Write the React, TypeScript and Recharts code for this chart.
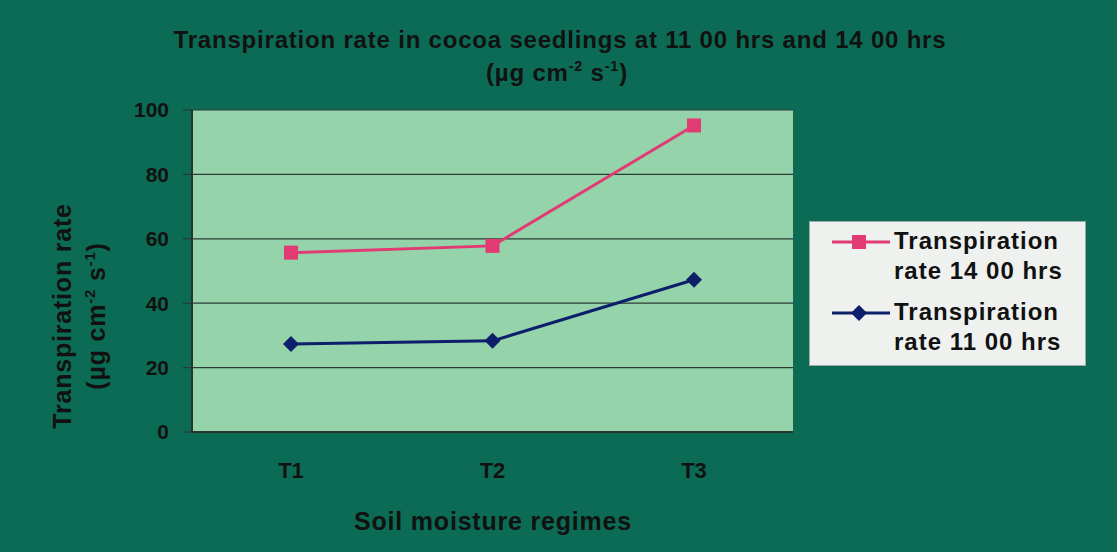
import React from "react";
import {
  LineChart, Line, XAxis, YAxis, CartesianGrid,
} from "recharts";

const regimes = ["T1", "T2", "T3"];
const rate1400 = [55.7, 57.8, 95.2];
const rate1100 = [27.3, 28.3, 47.3];
const yTicks = [0, 20, 40, 60, 80, 100];

const data = regimes.map((r, i) => ({ regime: r, t14: rate1400[i], t11: rate1100[i] }));

const BG = "#0b6b54";
const PLOT = "#95d4ab";
const PINK = "#e23a72";
const NAVY = "#0d1f6b";
const FONT = "'Liberation Sans', Arial, sans-serif";

// (µg cm-2 s-1) with raised exponents, as svg tspans
function Unit({ size }: { size: number }) {
  const s = size * 0.6;
  const up = size * 0.4;
  return (
    <>
      <tspan>(µg cm</tspan>
      <tspan dy={-up} fontSize={s}>-2</tspan>
      <tspan dy={up}> s</tspan>
      <tspan dy={-up} fontSize={s}>-1</tspan>
      <tspan dy={up}>)</tspan>
    </>
  );
}

function LegendBox() {
  const items = [
    { color: PINK, shape: "square", text: ["Transpiration", "rate 14 00 hrs"] },
    { color: NAVY, shape: "diamond", text: ["Transpiration", "rate 11 00 hrs"] },
  ];
  return (
    <div
      style={{
        position: "absolute", left: 809, top: 221, width: 277, height: 145,
        background: "#eef1ee", border: "1px solid #9aa", boxSizing: "border-box",
        padding: "4px 0 0 20px", fontFamily: FONT, fontWeight: "bold", fontSize: 24,
        letterSpacing: 1, color: "#111",
      }}
    >
      {items.map((it) => (
        <div key={it.text[1]} style={{ display: "flex", alignItems: "flex-start", marginBottom: 11 }}>
          <svg width={62} height={30}>
            <line x1={2} y1={16} x2={60} y2={16} stroke={it.color} strokeWidth={3} />
            {it.shape === "square" ? (
              <rect x={22} y={9} width={14} height={14} fill={it.color} />
            ) : (
              <polygon points="29,8 37,16 29,24 21,16" fill={it.color} />
            )}
          </svg>
          <div style={{ lineHeight: "30px", marginLeft: 2 }}>
            {it.text[0]}
            <br />
            {it.text[1]}
          </div>
        </div>
      ))}
    </div>
  );
}

const Square = (props: any) => {
  const { cx, cy } = props;
  return <rect x={cx - 7} y={cy - 7} width={14} height={14} fill={PINK} />;
};

const Diamond = (props: any) => {
  const { cx, cy } = props;
  return <polygon points={`${cx},${cy - 8} ${cx + 8},${cy} ${cx},${cy + 8} ${cx - 8},${cy}`} fill={NAVY} />;
};

export default function App() {
  const txt = { fontFamily: FONT, fontWeight: "bold" as const, fill: "#111" };
  return (
    <div style={{ position: "absolute", left: 0, top: 0, width: 1117, height: 552, background: BG }}>
      <LineChart width={1117} height={552} data={data} margin={{ top: 110, right: 324, bottom: 90, left: 132 }}>
        <CartesianGrid vertical={false} fill={PLOT} fillOpacity={1} stroke="#2e3a34" strokeWidth={1.2} />
        <XAxis
          dataKey="regime"
          height={30}
          padding={{ left: 99, right: 99 }}
          tick={{ fontSize: 22, fontWeight: "bold", fill: "#111", fontFamily: FONT }}
          tickLine={false}
          axisLine={{ stroke: "#2a332e", strokeWidth: 2 }}
          tickMargin={24}
        />
        <YAxis
          domain={[0, 100]}
          ticks={yTicks}
          width={60}
          tick={{ fontSize: 21, fontWeight: "bold", fill: "#111", fontFamily: FONT }}
          tickLine={{ stroke: "#2a332e" }}
          tickSize={9}
          tickMargin={14}
          axisLine={{ stroke: "#2a332e", strokeWidth: 2 }}
        />
        <YAxis
          yAxisId="frame"
          orientation="right"
          domain={[0, 100]}
          width={0}
          tick={false}
          tickLine={false}
          axisLine={{ stroke: "#55625b", strokeWidth: 1.5 }}
        />
        <Line
          dataKey="t14"
          name="Transpiration rate 14 00 hrs"
          stroke={PINK}
          strokeWidth={3}
          dot={<Square />}
          isAnimationActive={false}
        />
        <Line
          dataKey="t11"
          name="Transpiration rate 11 00 hrs"
          stroke={NAVY}
          strokeWidth={3}
          dot={<Diamond />}
          isAnimationActive={false}
        />
      </LineChart>
      <LegendBox />
      <svg width={1117} height={552} style={{ position: "absolute", left: 0, top: 0, pointerEvents: "none" }}>
        <text x={560} y={48} textAnchor="middle" fontSize={24} letterSpacing={0.8} {...txt}>
          Transpiration rate in cocoa seedlings at 11 00 hrs and 14 00 hrs
        </text>
        <text x={557} y={81} textAnchor="middle" fontSize={24} letterSpacing={0.8} {...txt}>
          <Unit size={24} />
        </text>
        <text x={493} y={530} textAnchor="middle" fontSize={25} letterSpacing={0.8} {...txt}>
          Soil moisture regimes
        </text>
        <text x={71} y={316} textAnchor="middle" fontSize={25} letterSpacing={0.8}
          transform="rotate(-90 71 316)" {...txt}>
          Transpiration rate
        </text>
        <text x={105} y={316} textAnchor="middle" fontSize={25} letterSpacing={0.8}
          transform="rotate(-90 105 316)" {...txt}>
          <Unit size={25} />
        </text>
      </svg>
    </div>
  );
}
